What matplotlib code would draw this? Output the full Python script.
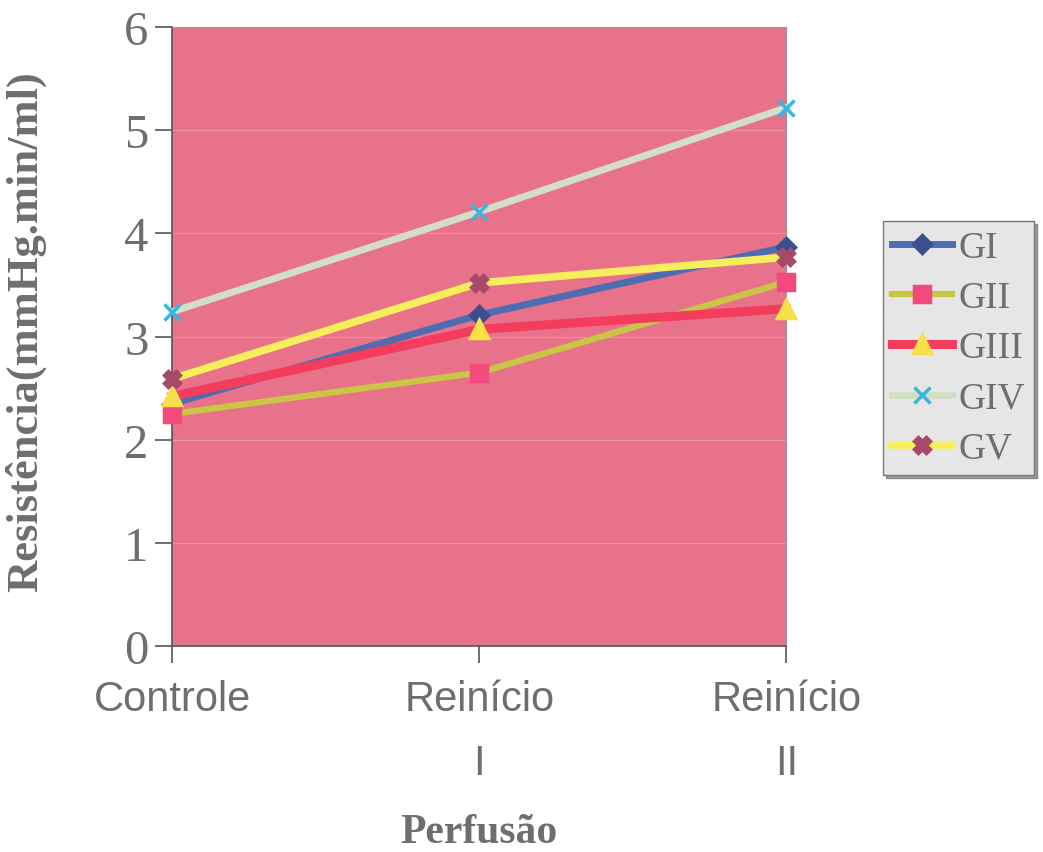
import numpy as np
import matplotlib.pyplot as plt

# fases da perfusão e resistência média por grupo
fases = ["Controle", "Reinício\nI", "Reinício\nII"]
gi = [2.35, 3.21, 3.87]
gii = [2.25, 2.65, 3.53]
giii = [2.42, 3.07, 3.27]
giv = [3.24, 4.21, 5.22]
gv = [2.59, 3.52, 3.77]

cinza = "#6E6E6E"
serif = ["Liberation Serif", "DejaVu Serif"]
sans = ["Liberation Sans", "DejaVu Sans"]

fig = plt.figure(figsize=(10.43, 8.53), dpi=100)
ax = fig.add_axes([0.165, 0.2415, 0.589, 0.7255])
ax.set_facecolor("#E8728A")

x = np.arange(len(fases))

series = [
    ("GI", gi, "#4E6DB0", "D", "#3A4F8E", "#3A4F8E", 5, 9),
    ("GII", gii, "#C9C545", "s", "#F24A7E", "#F24A7E", 4.5, 12),
    ("GIII", giii, "#F43C5C", "^", "#F8E04A", "#F8E04A", 6.5, 13),
    ("GIV", giv, "#D2DEC6", "x", "#36B6E2", "#36B6E2", 5, 12),
    ("GV", gv, "#F6EE5A", "X", "#A8486A", "#A8486A", 5.5, 12),
]

for nome, vals, cor, mk, mfc, mec, lw, ms in series:
    ax.plot(x, vals, color=cor, lw=lw, marker=mk, markersize=ms,
            markerfacecolor=mfc, markeredgecolor=mec, markeredgewidth=2.5,
            label=nome, clip_on=False, zorder=3)

ax.set_xlim(0, 2)
ax.set_ylim(0, 6)
ax.set_yticks(range(7))
ax.set_xticks(x)
ax.set_xticklabels(fases, fontsize=30, color=cinza, family=sans, linespacing=1.75)
ax.tick_params(axis="y", labelsize=35, labelcolor=cinza, length=12, width=1.2,
               color="#555555", pad=5)
ax.tick_params(axis="x", length=12, width=1.2, color="#555555", pad=12)
for lbl in ax.get_yticklabels():
    lbl.set_family(serif)

ax.grid(axis="y", color="#F4A8B8", lw=0.8, alpha=0.6)
ax.set_axisbelow(True)

for lado in ["top", "right"]:
    ax.spines[lado].set_color("#999999")
    ax.spines[lado].set_linewidth(0.8)
for lado in ["left", "bottom"]:
    ax.spines[lado].set_color("#555555")
    ax.spines[lado].set_linewidth(1.2)

ax.set_ylabel("Resistência(mmHg.min/ml)", fontsize=32, fontweight="bold",
              color=cinza, family=serif)
ax.yaxis.set_label_coords(-0.205, 0.51)
ax.set_xlabel("Perfusão", fontsize=30, fontweight="bold", color=cinza,
              family=serif)
ax.xaxis.set_label_coords(0.5, -0.27)

leg = ax.legend(loc="upper left", bbox_to_anchor=(883 / 1043, 1 - 222 / 853),
                bbox_transform=fig.transFigure, frameon=True, shadow=True,
                fancybox=False, prop={"family": serif, "size": 27},
                handlelength=1.6, handletextpad=0.15, labelspacing=0.42,
                borderpad=0.25, borderaxespad=0)
leg.get_frame().set_facecolor("#E6E6E6")
leg.get_frame().set_edgecolor("#777777")
for t in leg.get_texts():
    t.set_color(cinza)

fig.savefig("out.png", dpi=100, facecolor="white")
